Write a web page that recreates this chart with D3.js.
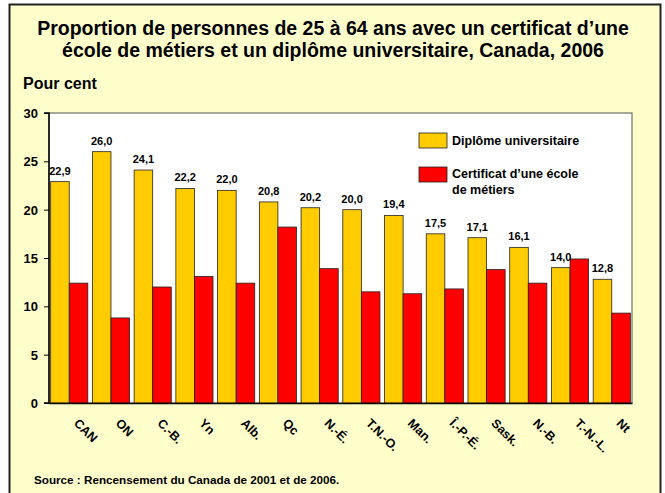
<!DOCTYPE html>
<html><head><meta charset="utf-8">
<script src="https://cdn.jsdelivr.net/npm/d3@7"></script>
<style>
body{margin:0;background:#fff;}
svg{display:block;font-family:"Liberation Sans",Arial,sans-serif;font-weight:bold;}
</style></head>
<body><svg id="c" width="665" height="493"></svg>
<script>
const categories = ["CAN","ON","C.-B.","Yn","Alb.","Qc","N.-É.","T.N.-O.","Man.","Î.-P.-É.","Sask.","N.-B.","T.-N.-L.","Nt"];
const university = [22.9,26.0,24.1,22.2,22.0,20.8,20.2,20.0,19.4,17.5,17.1,16.1,14.0,12.8];
const trades = [12.4,8.8,12.0,13.1,12.4,18.2,13.9,11.5,11.3,11.8,13.8,12.4,14.9,9.3];
const seriesNames = ["Diplôme universitaire","Certificat d’une école de métiers"];
const yTicks = [0,5,10,15,20,25,30];
const titleLines = ["Proportion de personnes de 25 à 64 ans avec un certificat d’une","école de métiers et un diplôme universitaire, Canada, 2006"];
const yLabel = "Pour cent";
const sourceText = "Source : Rencensement du Canada de 2001 et de 2006.";

const colors = ["#FFCC00","#FF0000"];
const svg = d3.select("#c");
const plot = {l:49, r:632, t:113, b:403};

// outer frame
svg.append("rect").attr("x",9.5).attr("y",4.5).attr("width",651).attr("height",520)
  .attr("fill","#FFFFCC").attr("stroke","#222").attr("stroke-width",2);

// title
svg.append("text").attr("x",333).attr("y",35).attr("text-anchor","middle")
  .attr("font-size",19.5).text(titleLines[0]);
svg.append("text").attr("x",333).attr("y",57).attr("text-anchor","middle")
  .attr("font-size",19.5).text(titleLines[1]);
svg.append("text").attr("x",23).attr("y",89).attr("font-size",16).text(yLabel);

// plot bg
svg.append("rect").attr("x",plot.l).attr("y",plot.t).attr("width",plot.r-plot.l).attr("height",plot.b-plot.t)
  .attr("fill","#fff").attr("stroke","#555").attr("stroke-width",1);

const x = d3.scaleBand().domain(categories).range([plot.l,plot.r]).paddingInner(0.11).paddingOuter(0.04);
const y = d3.scaleLinear().domain([0,30]).range([plot.b,plot.t]);
const bw = x.bandwidth()/2;

const data = categories.map((c,i)=>({c, v:[university[i],trades[i]]}));
const g = svg.append("g");
data.forEach(d=>{
  d.v.forEach((v,k)=>{
    g.append("rect").attr("x",x(d.c)+k*bw).attr("y",y(v)).attr("width",bw).attr("height",y(0)-y(v))
      .attr("fill",colors[k]).attr("stroke","#222").attr("stroke-width",0.8);
  });
  g.append("text").attr("x",x(d.c)+bw/2).attr("y",y(d.v[0])-7).attr("text-anchor","middle")
    .attr("font-size",11).text(d3.format(".1f")(d.v[0]).replace(".",","));
});

// y axis
const yAxis = d3.axisLeft(y).tickValues(yTicks).tickSize(5).tickPadding(6).tickFormat(d3.format("d"));
const ya = svg.append("g").attr("transform",`translate(${plot.l},0)`).call(yAxis);
ya.select(".domain").attr("stroke","#000").attr("stroke-width",1.5).attr("d",`M-5,${plot.t}H0V${plot.b}H-5`);
ya.selectAll(".tick line").attr("stroke","#000");
ya.selectAll(".tick text").attr("font-size",13).attr("font-family","Liberation Sans,Arial,sans-serif").attr("font-weight","bold").attr("fill","#000").attr("dy","0.35em");

// x axis
const xAxis = d3.axisBottom(x).tickSize(0).tickPadding(0);
const xa = svg.append("g").attr("transform",`translate(0,${plot.b})`).call(xAxis);
xa.select(".domain").attr("stroke","#000").attr("stroke-width",1.5);
xa.selectAll(".tick text").attr("font-size",12.5).attr("font-family","Liberation Sans,Arial,sans-serif").attr("font-weight","bold").attr("fill","#000")
  .attr("text-anchor","start").attr("dy",null).attr("y",0)
  .attr("transform","translate(4,21) rotate(45)");

// legend
const lg = svg.append("g");
const leg = [{y:133, lines:["Diplôme universitaire"], ty:[144.5]},{y:167, lines:["Certificat d’une école","de métiers"], ty:[177.5,194]}];
leg.forEach((l,k)=>{
  lg.append("rect").attr("x",419).attr("y",l.y).attr("width",28).attr("height",15)
    .attr("fill",colors[k]).attr("stroke","#222").attr("stroke-width",0.8);
  l.lines.forEach((t,j)=>lg.append("text").attr("x",452).attr("y",l.ty[j]).attr("font-size",12.5).text(t));
});

// source
svg.append("text").attr("x",34).attr("y",484).attr("font-size",11.7).text(sourceText);
</script></body></html>
